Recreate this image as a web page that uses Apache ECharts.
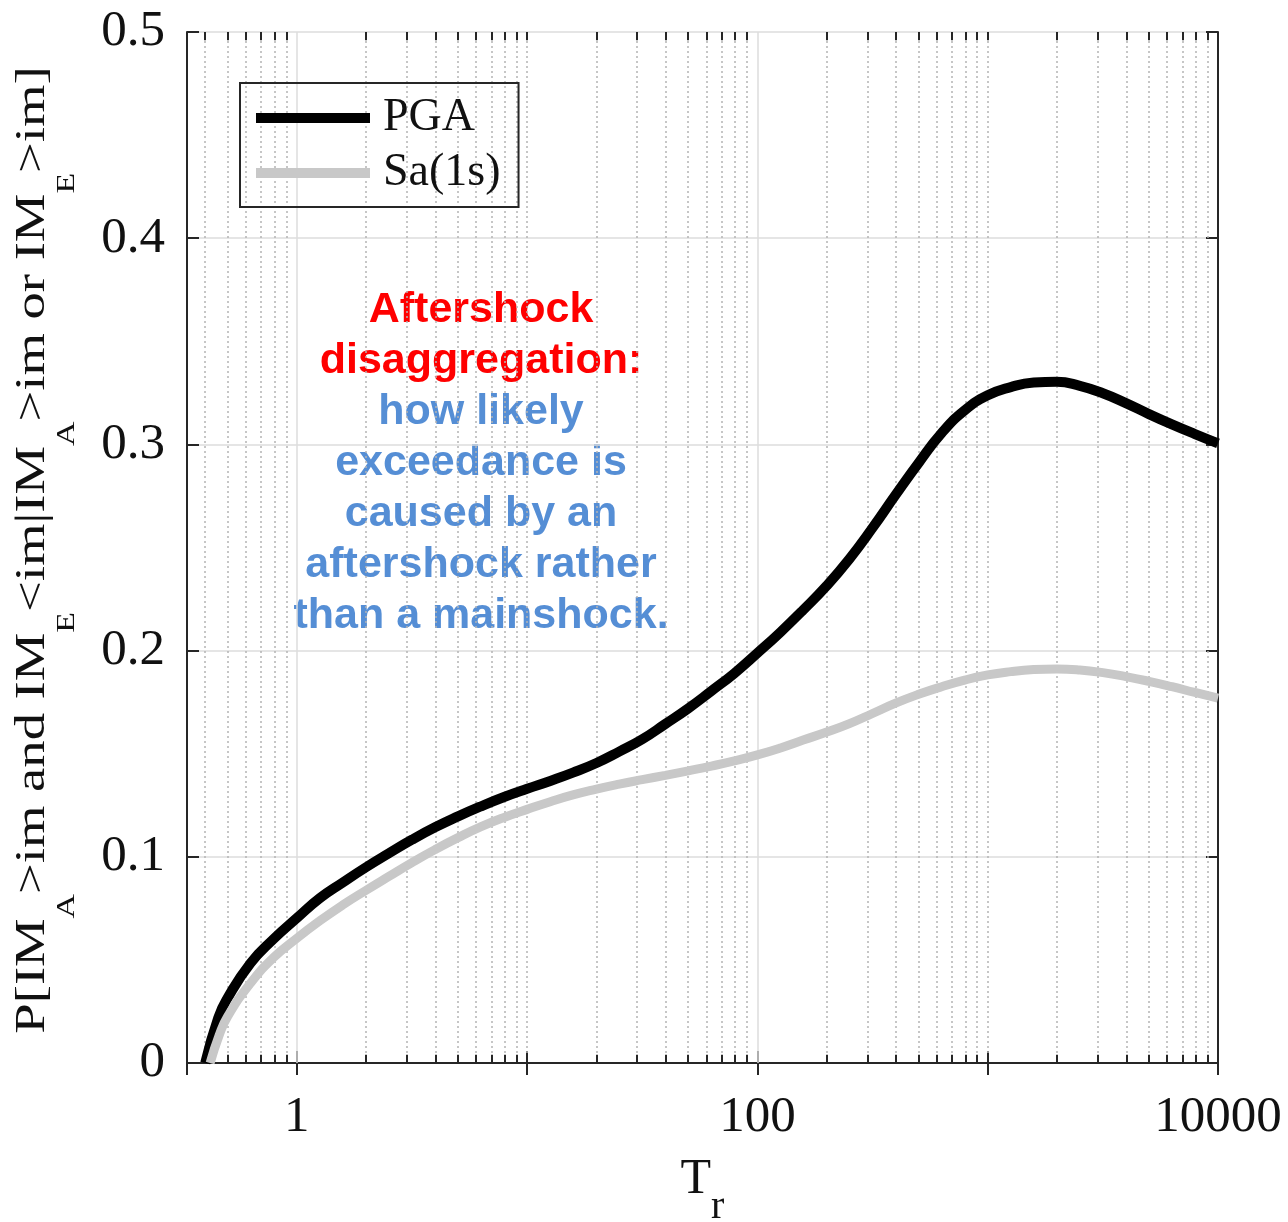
<!DOCTYPE html>
<html>
<head>
<meta charset="utf-8">
<script src="https://cdn.jsdelivr.net/npm/echarts@6/dist/echarts.min.js"></script>
<style>
  html, body { margin: 0; padding: 0; background: #fff; overflow: hidden; }
  #chart { width: 1288px; height: 1222px; }
</style>
</head>
<body>
<div id="chart"></div>
<script>
  // return period Tr (0.1 decade steps) and probability
  const trSteps = [0.5, 0.63, 0.79, 1, 1.26, 1.58, 2, 2.51, 3.16, 3.98, 5.01, 6.31, 7.94, 10, 12.6, 15.8, 20, 25.1, 31.6, 39.8, 50.1, 63.1, 79.4, 100, 126, 158, 200, 251, 316, 398, 501, 631, 794, 1000, 1259, 1585, 1995, 2512, 3162, 3981, 5012, 6310, 7943, 10000]
  const pgaTr = [0.4, 0.456].concat(trSteps)
  const pgaP = [0, 0.022, 0.0315, 0.0485, 0.060, 0.0703, 0.080, 0.0875, 0.095, 0.1017, 0.1083, 0.1143, 0.1196, 0.1245, 0.129, 0.133, 0.1368, 0.1408, 0.1455, 0.151, 0.157, 0.1644, 0.172, 0.1804, 0.189, 0.1988, 0.209, 0.2197, 0.2315, 0.2445, 0.2595, 0.2755, 0.291, 0.3055, 0.3165, 0.3238, 0.3278, 0.3300, 0.3304, 0.3284, 0.3248, 0.3200, 0.3147, 0.3097, 0.305, 0.3005]

  const saTr = [0.42, 0.46].concat(trSteps)
  const saP = [0, 0.0135, 0.0225, 0.0388, 0.051, 0.0605, 0.069, 0.0766, 0.0838, 0.0905, 0.0972, 0.1035, 0.1093, 0.1146, 0.1191, 0.1230, 0.1267, 0.1300, 0.1328, 0.1352, 0.1374, 0.1395, 0.1417, 0.144, 0.1465, 0.1494, 0.1528, 0.1566, 0.1605, 0.1646, 0.1695, 0.1745, 0.1788, 0.1825, 0.1857, 0.1882, 0.1898, 0.1908, 0.1911, 0.1906, 0.1893, 0.1874, 0.1851, 0.1825, 0.1797, 0.177]

  const xLabels = [1, 100, 10000]
  const xMajorGrid = [1, 100]
  const decades = [0.1, 1, 10, 100, 1000]
  const multiples = [2, 3, 4, 5, 6, 7, 8, 9, 10]

  const serif = 'Liberation Serif, Times New Roman, serif'
  const sans = 'Liberation Sans, Arial, sans-serif'
  const axisColor = '#262626'

  // dotted minor grid + short minor ticks on bottom and top
  let gridLines = []
  let minorVals = []
  decades.forEach(d => multiples.forEach(m => {
    let v = +(d * m).toPrecision(3)
    if (v > 1 / 3 && v < 10000 && xMajorGrid.indexOf(v) < 0) minorVals.push(v)
  }))
  minorVals.forEach(v => {
    gridLines.push({ xAxis: v, lineStyle: { type: [2, 3], color: '#b4b4b4', width: 1.5 } })
    gridLines.push([{ coord: [v, 0] }, { coord: [v, 0.004], lineStyle: { color: axisColor, width: 2, type: 'solid' } }])
    gridLines.push([{ coord: [v, 0.5] }, { coord: [v, 0.496], lineStyle: { color: axisColor, width: 2, type: 'solid' } }])
  })
  xMajorGrid.forEach(v => {
    gridLines.push({ xAxis: v, lineStyle: { type: 'solid', color: '#dcdcdc', width: 1.5 } })
  })

  const chart = echarts.init(document.getElementById('chart'))
  const option = {
    animation: false,
    backgroundColor: '#fff',
    grid: { left: 187, right: 70, top: 32, bottom: 159, outerBoundsMode: 'none', containLabel: false },
    legend: {
      data: ['PGA', 'Sa(1s)'],
      orient: 'vertical',
      left: 240,
      top: 83,
      padding: [10, 18, 9, 16],
      itemGap: 5,
      itemWidth: 114,
      itemHeight: 10,
      icon: 'rect',
      backgroundColor: 'transparent',
      borderColor: axisColor,
      borderWidth: 2,
      textStyle: { fontFamily: serif, fontSize: 46, lineHeight: 50, color: '#111', padding: [0, 0, 0, 8] }
    },
    xAxis: [{
      type: 'log',
      logBase: 10,
      min: 1 / 3,
      max: 10000,
      name: '{n|T}{s|r}',
      nameLocation: 'middle',
      nameGap: 92,
      nameTextStyle: {
        rich: {
          n: { fontFamily: serif, fontSize: 50, lineHeight: 50, color: '#111', verticalAlign: 'top' },
          s: { fontFamily: serif, fontSize: 40, lineHeight: 40, color: '#111', verticalAlign: 'top', padding: [32, 0, 0, 0] }
        }
      },
      axisLine: { lineStyle: { color: axisColor, width: 2 } },
      axisTick: { inside: true, length: 12, lineStyle: { color: axisColor, width: 2 } },
      axisLabel: {
        margin: 29,
        fontFamily: serif,
        fontSize: 51,
        color: '#111',
        formatter: v => {
          let hit = xLabels.find(t => Math.abs(t - v) / t < 1e-6)
          return hit ? String(hit) : ''
        }
      },
      splitLine: { show: false }
    }, {
      type: 'log',
      logBase: 10,
      min: 1 / 3,
      max: 10000,
      position: 'top',
      axisLine: { lineStyle: { color: axisColor, width: 2 } },
      axisTick: { inside: true, length: 12, lineStyle: { color: axisColor, width: 2 } },
      axisLabel: { show: false },
      splitLine: { show: false }
    }],
    yAxis: [{
      type: 'value',
      min: 0,
      max: 0.5,
      interval: 0.1,
      axisLine: { show: true, lineStyle: { color: axisColor, width: 2 } },
      axisTick: { show: true, inside: true, length: 12, lineStyle: { color: axisColor, width: 2 } },
      axisLabel: { margin: 22, fontFamily: serif, fontSize: 51, color: '#111' },
      splitLine: { show: true, lineStyle: { color: '#dcdcdc', width: 1.5 } }
    }, {
      type: 'value',
      min: 0,
      max: 0.5,
      interval: 0.1,
      position: 'right',
      axisLine: { show: true, lineStyle: { color: axisColor, width: 2 } },
      axisTick: { show: true, inside: true, length: 12, lineStyle: { color: axisColor, width: 2 } },
      axisLabel: { show: false },
      splitLine: { show: false }
    }],
    graphic: [{
      type: 'text',
      x: 33,
      y: 550,
      rotation: Math.PI / 2,
      scaleX: 1.3,
      style: {
        text: '{n|P[IM}{s|A}{n|>im and IM}{s|E}{n|<im|IM}{s|A}{n|>im or IM}{s|E}{n|>im]}',
        align: 'center',
        verticalAlign: 'middle',
        rich: {
          n: { fontFamily: serif, fontSize: 42, lineHeight: 42, fill: '#111', verticalAlign: 'top' },
          s: { fontFamily: serif, fontSize: 26, lineHeight: 26, fill: '#111', verticalAlign: 'top', padding: [42, 0, 0, 0] }
        }
      }
    }, {
      type: 'text',
      x: 481,
      y: 285,
      style: {
        text: '{r|Aftershock}\n{r|disaggregation:}\n{b|how likely}\n{b|exceedance is}\n{b|caused by an}\n{b|aftershock rather}\n{b|than a mainshock.}',
        align: 'center',
        verticalAlign: 'top',
        rich: {
          r: { fontFamily: sans, fontWeight: 'bold', fontSize: 43, lineHeight: 51, fill: '#ff0000' },
          b: { fontFamily: sans, fontWeight: 'bold', fontSize: 43, lineHeight: 51, fill: '#558ed5' }
        }
      }
    }],
    series: [{
      name: '_grid',
      type: 'line',
      data: [],
      z: 1,
      silent: true,
      markLine: {
        silent: true,
        z: 1,
        symbol: ['none', 'none'],
        label: { show: false },
        emphasis: { disabled: true },
        animation: false,
        data: gridLines
      }
    }, {
      name: 'PGA',
      type: 'line',
      data: pgaTr.map((t, i) => [t, pgaP[i]]),
      showSymbol: false,
      smooth: 0.5,
      z: 3,
      lineStyle: { color: '#000', width: 10, type: 'solid' },
      itemStyle: { color: '#000' }
    }, {
      name: 'Sa(1s)',
      type: 'line',
      data: saTr.map((t, i) => [t, saP[i]]),
      showSymbol: false,
      smooth: 0.5,
      z: 4,
      lineStyle: { color: '#c8c8c8', width: 9, type: 'solid' },
      itemStyle: { color: '#c8c8c8' }
    }]
  }
  chart.setOption(option)
</script>
</body>
</html>
